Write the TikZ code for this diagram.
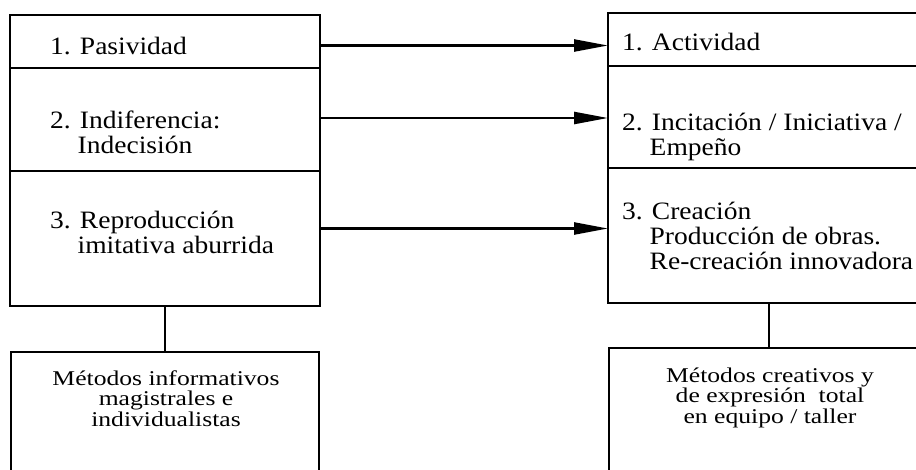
\documentclass[tikz,border=0pt]{standalone}
\usepackage{fontspec}
\setmainfont{Liberation Serif}[FakeStretch=1.1]
\newfontfamily\lowfont{Liberation Serif}[FakeStretch=1.22]
\usetikzlibrary{positioning, arrows.meta}

\begin{document}
\begin{tikzpicture}[
    x=1pt, y=-1pt, node distance=0pt,
    cell/.style={rectangle, draw, line width=2.2pt, outer sep=0pt,
                 inner sep=0pt, anchor=north west},
    item/.style={anchor=base west, inner sep=0pt, align=left,
                 font=\fontsize{25}{25}\selectfont},
    method/.style={anchor=base, inner sep=0pt, align=center,
                   font=\lowfont\fontsize{21}{20.5}\selectfont},
    arrow/.style={-{Triangle[length=34pt, width=12pt]}, line width=2.4pt},
    link/.style={line width=2.2pt}
]
  \useasboundingbox (0,0) rectangle (916,469);
  \clip (0,0) rectangle (916,469);

  % left column: passive states
  \node[cell, minimum width=310pt, minimum height=53pt] (l1) at (10,15) {};
  \node[cell, below=of l1, minimum width=310pt, minimum height=103pt] (l2) {};
  \node[cell, below=of l2, minimum width=310pt, minimum height=135pt] (l3) {};
  \node[cell, below=46pt of l3, minimum width=308pt, minimum height=130pt] (lm) {};

  % right column: active states
  \node[cell, minimum width=322pt, minimum height=53pt] (r1) at (608,13) {};
  \node[cell, below=of r1, minimum width=322pt, minimum height=102pt] (r2) {};
  \node[cell, below=of r2, minimum width=322pt, minimum height=135pt] (r3) {};
  \node[cell, below=45pt of r3, minimum width=320pt, minimum height=125pt] (rm) {};

  % texts (base = last line)
  \node[item] (t1) at (50,54) {1. Pasividad};
  \node[item] (t2) at (50,153) {2. Indiferencia:\\\phantom{2.\ }Indecisión};
  \node[item] (t3) at (50,253) {3. Reproducción\\\phantom{3.\ }imitativa aburrida};
  \node[item] (s1) at (622,50) {1. Actividad};
  \node[item] (s2) at (622,155) {2. Incitación / Iniciativa /\\\phantom{2.\ }Empeño};
  \node[item] (s3) at (622,269) {3. Creación\\\phantom{3.\ }Producción de obras.\\\phantom{3.\ }Re-creación innovadora};
  \node[method] (m1) at (166,426) {Métodos informativos\\magistrales e\\individualistas};
  \node[method] (m2) at (770,423) {Métodos creativos y\\de expresión\ \ total\\en equipo / taller};

  % connectors
  \draw[arrow] ([yshift=-4pt]l1.east) -- ([yshift=-4pt]l1.east -| r1.west);
  \draw[arrow] ([yshift=1.5pt]l2.east) -- ([yshift=1.5pt]l2.east -| r2.west);
  \draw[arrow] ([yshift=10pt]l3.east) -- ([yshift=10pt]l3.east -| r3.west);
  \draw[link] (l3.south) -- (lm.north);
  \draw[link] (r3.south) -- (rm.north);
\end{tikzpicture}
\end{document}
